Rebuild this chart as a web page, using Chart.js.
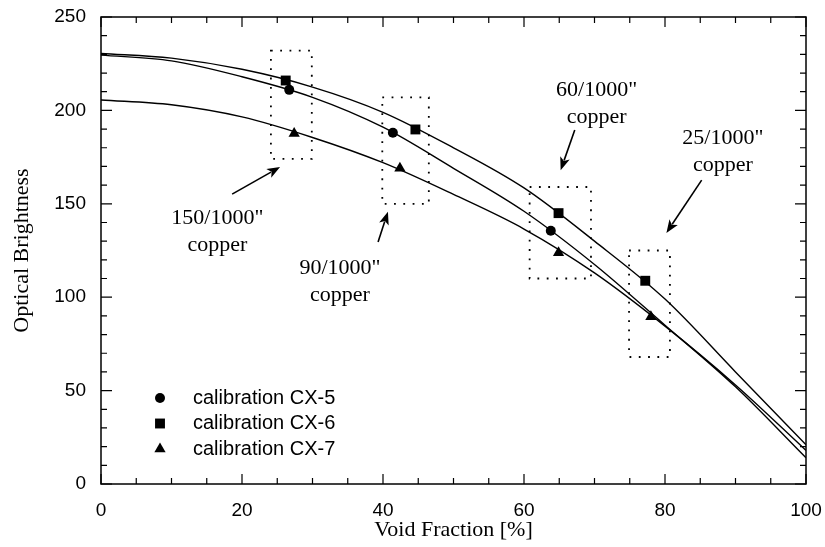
<!DOCTYPE html>
<html>
<head>
<meta charset="utf-8">
<script src="https://cdn.jsdelivr.net/npm/chart.js@4/dist/chart.umd.min.js"></script>
<style>
  html, body { margin: 0; padding: 0; background: #fff; }
  #wrap { width: 825px; height: 547px; }
</style>
</head>
<body>
<div id="wrap"><canvas id="chart" width="825" height="547"></canvas></div>
<script>
    // fitted curves, every 10 %
    const fitX = [0, 10, 20, 30, 40, 50, 60, 70, 80, 90, 100];
    const fitCX5 = [229.6, 226.5, 218, 207, 191, 169, 146, 117.5, 85, 52, 14];
    const fitCX6 = [230.5, 228, 222, 212.5, 199, 180, 158.5, 130, 99, 60, 21];
    const fitCX7 = [205.6, 203, 196.5, 185.5, 172, 155, 136.5, 113, 84.5, 53, 18];

    // calibration points
    const cx5X = [26.7, 41.4, 63.8];
    const cx5Y = [211, 188, 135.6];
    const cx6X = [26.2, 44.6, 64.9, 77.2];
    const cx6Y = [216, 189.8, 145, 108.8];
    const cx7X = [27.4, 42.4, 64.9, 78];
    const cx7Y = [187.7, 169, 123.8, 89.6];

    const seriesNames = ['calibration CX-5', 'calibration CX-6', 'calibration CX-7'];
    const markerStyles = ['circle', 'rect', 'triangle'];
    const markerRadius = [5, 7, 6.5];

    // dotted boxes around each copper thickness: [xmin, xmax, ymin, ymax]
    const copperBoxes = [[24.1, 29.9, 174, 232], [39.9, 46.5, 150, 207], [60.8, 69.5, 110, 159], [74.9, 80.7, 68, 125]];
    const copperLabels = ['150/1000"', '90/1000"', '60/1000"', '25/1000"'];
    // label centre and arrow tail -> head, in data units
    const labelPos = [[16.5, 142.4], [33.9, 115.6], [70.3, 211], [88.2, 185.2]];
    const arrowFrom = [[18.6, 155.2], [39.3, 129.5], [67.2, 189.5], [85.2, 162.7]];
    const arrowTo = [[25.4, 169.7], [40.7, 145.8], [65.2, 168], [80.2, 134.4]];

    const toXY = (xs, ys) => xs.map((v, i) => ({ x: v, y: ys[i] }));

    const fitLine = (ys) => ({
      type: 'line',
      data: toXY(fitX, ys),
      borderColor: '#000',
      borderWidth: 1.4,
      pointRadius: 0,
      cubicInterpolationMode: 'monotone',
      fill: false,
    });

    const marks = (xs, ys, i) => ({
      type: 'scatter',
      label: seriesNames[i],
      data: toXY(xs, ys),
      pointStyle: markerStyles[i],
      pointRadius: markerRadius[i],
      backgroundColor: '#000',
      borderColor: '#000',
      borderWidth: 0,
    });

    function arrow(ctx, x1, y1, x2, y2) {
      const ang = Math.atan2(y2 - y1, x2 - x1);
      const hl = 13, hw = 5;
      ctx.beginPath();
      ctx.moveTo(x1, y1);
      ctx.lineTo(x2 - Math.cos(ang) * hl * 0.8, y2 - Math.sin(ang) * hl * 0.8);
      ctx.stroke();
      ctx.beginPath();
      ctx.moveTo(x2, y2);
      ctx.lineTo(x2 - Math.cos(ang) * hl - Math.sin(ang) * hw, y2 - Math.sin(ang) * hl + Math.cos(ang) * hw);
      ctx.lineTo(x2 - Math.cos(ang) * hl * 0.75, y2 - Math.sin(ang) * hl * 0.75);
      ctx.lineTo(x2 - Math.cos(ang) * hl + Math.sin(ang) * hw, y2 - Math.sin(ang) * hl - Math.cos(ang) * hw);
      ctx.closePath();
      ctx.fill();
    }

    const decor = {
      id: 'decor',
      afterDraw(chart) {
        const { ctx, chartArea: a, scales: { x, y } } = chart;
        ctx.save();
        ctx.strokeStyle = '#000';
        ctx.fillStyle = '#000';

        // frame and inward ticks
        ctx.lineWidth = 1.5;
        ctx.strokeRect(a.left, a.top, a.right - a.left, a.bottom - a.top);
        ctx.lineWidth = 1.2;
        ctx.beginPath();
        for (let v = 0; v <= 100; v += 5) {
          const px = x.getPixelForValue(v);
          const len = v % 20 === 0 ? 10 : 6;
          ctx.moveTo(px, a.bottom); ctx.lineTo(px, a.bottom - len);
          ctx.moveTo(px, a.top); ctx.lineTo(px, a.top + len);
        }
        for (let v = 0; v <= 250; v += 10) {
          const py = y.getPixelForValue(v);
          const len = v % 50 === 0 ? 11 : 6;
          ctx.moveTo(a.left, py); ctx.lineTo(a.left + len, py);
          ctx.moveTo(a.right, py); ctx.lineTo(a.right - len, py);
        }
        ctx.stroke();

        // dotted boxes
        ctx.lineWidth = 1.8;
        ctx.setLineDash([1.8, 7.5]);
        copperBoxes.forEach(b => {
          const l = x.getPixelForValue(b[0]), r = x.getPixelForValue(b[1]);
          const t = y.getPixelForValue(b[3]), btm = y.getPixelForValue(b[2]);
          ctx.strokeRect(l, t, r - l, btm - t);
        });
        ctx.setLineDash([]);

        // labels and arrows
        ctx.font = '22px "Liberation Serif", serif';
        ctx.textAlign = 'center';
        ctx.textBaseline = 'middle';
        ctx.lineWidth = 1.6;
        copperLabels.forEach((txt, i) => {
          const cx = x.getPixelForValue(labelPos[i][0]);
          const cy = y.getPixelForValue(labelPos[i][1]);
          ctx.fillText(txt, cx, cy);
          ctx.fillText('copper', cx, cy + 27);
          arrow(ctx,
            x.getPixelForValue(arrowFrom[i][0]), y.getPixelForValue(arrowFrom[i][1]),
            x.getPixelForValue(arrowTo[i][0]), y.getPixelForValue(arrowTo[i][1]));
        });

        // legend, bottom left inside the plot
        ctx.font = '20px "Liberation Sans", Arial, sans-serif';
        ctx.textAlign = 'left';
        seriesNames.forEach((name, i) => {
          const ly = a.bottom - 86 + i * 25.5;
          Chart.helpers.drawPoint(ctx, {
            pointStyle: markerStyles[i], radius: markerRadius[i], rotation: 0, borderWidth: 0
          }, a.left + 59, ly);
          ctx.fillText(name, a.left + 92, ly);
        });
        ctx.restore();
      }
    };

    const ctx = document.getElementById('chart').getContext('2d');
    const chart = new Chart(ctx, {
      data: {
        datasets: [
          fitLine(fitCX5), fitLine(fitCX6), fitLine(fitCX7),
          marks(cx5X, cx5Y, 0), marks(cx6X, cx6Y, 1), marks(cx7X, cx7Y, 2),
        ],
      },
      options: {
        responsive: false,
        animation: false,
        layout: { padding: { top: 17, right: 19, left: 0, bottom: 0 } },
        plugins: {
          legend: { display: false },
          tooltip: { enabled: false },
        },
        scales: {
          x: {
            type: 'linear',
            min: 0,
            max: 100,
            grid: { display: false, drawTicks: false },
            border: { display: false },
            ticks: {
              stepSize: 20,
              padding: 15,
              color: '#000',
              font: { family: '"Liberation Sans", Arial, sans-serif', size: 19 },
            },
            title: {
              display: true,
              text: 'Void Fraction [%]',
              color: '#000',
              font: { family: '"Liberation Serif", serif', size: 22 },
              padding: { top: 0, bottom: 4 },
            },
            afterFit(scale) {
              scale.height = 63;
              scale.paddingLeft = 0;
              scale.paddingRight = 0;
            },
          },
          y: {
            type: 'linear',
            min: 0,
            max: 250,
            grid: { display: false, drawTicks: false },
            border: { display: false },
            ticks: {
              stepSize: 50,
              padding: 15,
              color: '#000',
              font: { family: '"Liberation Sans", Arial, sans-serif', size: 19 },
            },
            title: {
              display: true,
              text: 'Optical Brightness',
              color: '#000',
              font: { family: '"Liberation Serif", serif', size: 22 },
              padding: { top: 9, bottom: 0 },
            },
            afterFit(scale) {
              scale.width = 101;
              scale.paddingTop = 0;
              scale.paddingBottom = 0;
            },
          },
        },
      },
      plugins: [decor],
    });
</script>
</body>
</html>
